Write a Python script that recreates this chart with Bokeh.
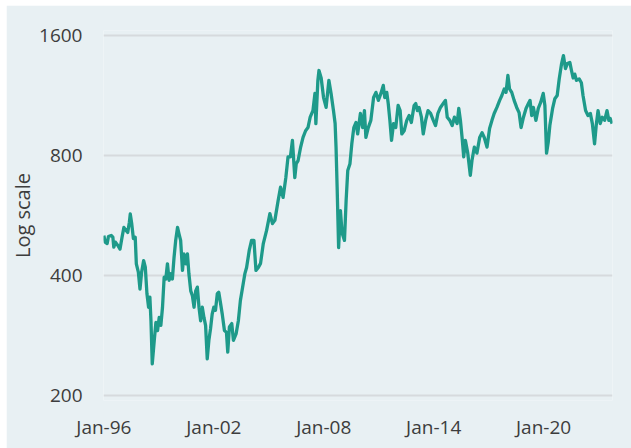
import pandas as pd
from bokeh.plotting import figure
from bokeh.models import Range1d, FixedTicker, ColumnDataSource
from bokeh.embed import file_html
from bokeh.resources import INLINE

# decimal years and index values, in four periods
years_1996_2002 = [1996.00,1996.07,1996.18,1996.25,1996.40,1996.49,1996.54,1996.63,1996.76,1996.88,1996.99,
 1997.09,1997.21,1997.30,1997.39,1997.44,1997.52,1997.61,1997.71,1997.77,1997.88,1997.97,
 1998.06,1998.17,1998.26,1998.35,1998.44,1998.51,1998.57,1998.64,1998.75,1998.84,1998.93,
 1999.02,1999.11,1999.20,1999.29,1999.38,1999.47,1999.56,1999.65,1999.74,1999.83,1999.92,
 2000.02,2000.10,2000.19,2000.29,2000.37,2000.47,2000.56,2000.64,2000.74,2000.83,2000.92,
 2001.01,2001.10,2001.19,2001.28,2001.37,2001.46,2001.55,2001.64,2001.73,2001.82,2001.91,
 2002.00,2002.09,2002.19,2002.27,2002.37,2002.46,2002.58,2002.69,2002.76,2002.85]
values_1996_2002 = [504,485,481,501,504,499,471,485,476,466,499,
 528,519,513,544,571,539,495,499,428,408,370,
 408,436,420,360,333,353,308,240,275,305,291,
 314,300,333,396,392,428,389,404,392,444,490,
 528,509,490,412,453,428,453,404,366,356,333,
 366,374,333,308,333,314,300,247,275,294,320,
 333,327,360,363,340,320,291,288,257,297]

years_2003_2009 = [2002.98,2003.07,2003.22,2003.34,2003.45,2003.57,2003.70,2003.79,2003.94,
 2004.06,2004.19,2004.30,2004.43,2004.55,2004.70,2004.88,
 2005.06,2005.20,2005.33,2005.51,2005.64,2005.78,2005.93,
 2006.05,2006.18,2006.29,2006.42,2006.50,2006.60,2006.74,2006.87,
 2007.01,2007.14,2007.26,2007.41,2007.52,2007.57,2007.68,2007.74,2007.86,2007.99,
 2008.13,2008.28,2008.40,2008.53,2008.62,2008.67,2008.73,2008.81,2008.91,
 2009.00,2009.13,2009.22,2009.31,2009.43]
values_2003_2009 = [303,275,286,308,346,373,405,419,464,
 490,490,412,419,429,481,519,
 572,540,550,617,666,628,704,
 794,794,873,704,763,777,840,888,
 923,940,998,1037,1145,962,1235,1307,1252,1118,
 1056,1235,1145,1037,962,840,666,470,582,
 511,490,617,734,763]

years_2009_2016 = [2009.53,2009.64,2009.76,2009.85,
 2010.00,2010.12,2010.22,2010.30,2010.43,2010.57,2010.72,2010.85,2010.98,
 2011.12,2011.25,2011.33,2011.44,2011.52,2011.61,2011.70,2011.81,2011.93,
 2012.06,2012.17,2012.26,2012.39,2012.53,2012.66,2012.78,2012.93,
 2013.02,2013.11,2013.20,2013.33,2013.43,2013.56,2013.69,2013.83,2013.98,
 2014.10,2014.23,2014.37,2014.56,2014.64,2014.74,2014.88,
 2015.01,2015.13,2015.28,2015.37,2015.46,2015.55,2015.64,2015.73,2015.86,
 2016.00,2016.09,2016.22,2016.36,2016.51,2016.64,2016.76,2016.91]
values_2009_2016 = [856,940,968,906,
 1020,940,1037,888,940,980,1118,1152,1100,
 1145,1199,1118,1152,1080,980,873,962,940,
 1068,1037,906,923,980,1008,968,1068,
 1080,1037,1056,998,906,980,1037,1020,980,
 951,1020,1056,1087,1100,998,980,
 951,998,962,1050,980,888,794,873,811,
 713,777,840,811,888,912,888,840]

years_2017_2023 = [2017.05,2017.18,2017.30,2017.45,2017.60,2017.72,2017.85,2017.95,
 2018.05,2018.14,2018.26,2018.39,2018.53,2018.66,2018.77,2018.90,
 2019.04,2019.17,2019.26,2019.35,2019.44,2019.58,2019.71,2019.84,2019.98,
 2020.07,2020.16,2020.25,2020.34,2020.49,2020.61,2020.74,2020.85,2020.98,
 2021.08,2021.19,2021.30,2021.43,2021.52,2021.61,2021.70,2021.79,2021.94,
 2022.06,2022.15,2022.29,2022.42,2022.55,2022.66,2022.78,2022.87,2022.97,
 2023.09,2023.20,2023.33,2023.46,2023.56,2023.63,2023.74]
values_2017_2023 = [935,980,1020,1056,1100,1131,1175,1152,
 1270,1175,1152,1100,1056,1025,940,998,
 1050,1080,1100,1008,1056,980,1050,1087,1145,
 1068,811,862,951,1050,1110,1131,1245,1361,
 1425,1322,1361,1370,1307,1252,1280,1235,1245,
 1218,1131,1037,1008,1020,962,856,951,1037,
 962,998,980,1037,980,991,962]

x_tick_dates = ["1996-01-01", "2002-01-01", "2008-01-01", "2014-01-01", "2020-01-01"]
x_tick_labels = ["Jan-96", "Jan-02", "Jan-08", "Jan-14", "Jan-20"]
y_ticks = [200, 400, 800, 1600]
y_tick_labels = ["200", "400", "800", "1600"]


def dec_to_ms(y):
    yr = int(y)
    frac = y - yr
    start = pd.Timestamp(year=yr, month=1, day=1)
    end = pd.Timestamp(year=yr + 1, month=1, day=1)
    t = start + (end - start) * frac
    return t.value / 1e6


years = years_1996_2002 + years_2003_2009 + years_2009_2016 + years_2017_2023
values = values_1996_2002 + values_2003_2009 + values_2009_2016 + values_2017_2023
dates = [dec_to_ms(y) for y in years]
src = ColumnDataSource(dict(x=dates, y=values))

BG = "#e8f0f3"
TXT = "#3d3d3d"
FONT = "Open Sans"

x_start = dec_to_ms(1995.98)
x_end = dec_to_ms(2023.76)

p = figure(width=625, height=443, x_axis_type="datetime", y_axis_type="log",
           x_range=Range1d(x_start, x_end),
           y_range=Range1d(194.3, 1646.9),
           output_backend="svg", toolbar_location=None,
           min_border_left=94, min_border_right=19,
           min_border_top=25, min_border_bottom=48)
p.margin = (5, 0, 0, 6)

p.background_fill_color = BG
p.border_fill_color = BG
p.outline_line_color = None

p.line("x", "y", source=src, line_color="#1e9a8a", line_width=3.3,
       line_join="round")

xt = [pd.Timestamp(d).value / 1e6 for d in x_tick_dates]
p.xaxis.ticker = FixedTicker(ticks=xt)
p.xaxis.major_label_overrides = {t: l for t, l in zip(xt, x_tick_labels)}
p.yaxis.ticker = FixedTicker(ticks=y_ticks)
p.yaxis.major_label_overrides = {t: l for t, l in zip(y_ticks, y_tick_labels)}

for ax in (p.xaxis, p.yaxis):
    ax.axis_line_color = None
    ax.major_tick_line_color = None
    ax.minor_tick_line_color = None
    ax.major_tick_out = 0
    ax.minor_tick_out = 0
    ax.major_label_text_font = FONT
    ax.major_label_text_font_size = "19px"
    ax.major_label_text_color = TXT

p.xaxis.major_label_standoff = 13
p.yaxis.major_label_standoff = 21
p.yaxis.axis_label = "Log scale"
p.yaxis.axis_label_text_font = FONT
p.yaxis.axis_label_text_font_size = "20px"
p.yaxis.axis_label_text_font_style = "normal"
p.yaxis.axis_label_text_color = TXT
p.yaxis.axis_label_standoff = 0

p.xgrid.grid_line_color = None
p.ygrid.ticker = FixedTicker(ticks=y_ticks)
p.ygrid.grid_line_color = "#d6dadd"
p.ygrid.grid_line_width = 2

open("out.html", "w").write(file_html(p, INLINE))
